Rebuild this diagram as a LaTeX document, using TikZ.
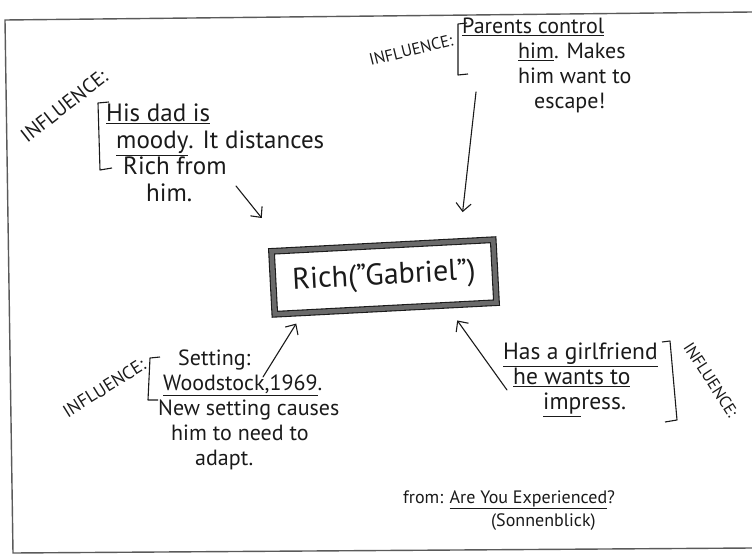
\documentclass[tikz,border=0pt]{standalone}
\usepackage{fontspec}
\setmainfont{PT Sans}
\usetikzlibrary{arrows.meta,calc}
\definecolor{PenInk}{HTML}{1A1A1A}
\definecolor{FrameGray}{HTML}{5A5A5A}
\definecolor{BoxShade}{HTML}{6A6A6A}
\newcommand{\NoteText}{\fontsize{22}{25}\selectfont}
\newcommand{\NoteTextLarge}{\fontsize{25}{26.5}\selectfont}
\newcommand{\NoteTextWide}{\fontsize{23.5}{25}\selectfont}
\newcommand{\NoteTag}{\fontsize{20}{21}\selectfont}
\newcommand{\NoteTagMid}{\fontsize{18}{19}\selectfont}
\newcommand{\NoteTagSmall}{\fontsize{16.5}{17}\selectfont}
\newcommand{\NoteName}{\fontsize{30}{32}\selectfont}
\newcommand{\NoteSource}{\fontsize{18}{23}\selectfont}
\tikzset{
  notetext/.style={
    align=left,
    anchor=north west,
    inner sep=0pt,
    text=PenInk,
    font=\NoteText
  },
  tagtext/.style={
    inner sep=0pt,
    text=PenInk,
    font=\NoteTag
  },
  richbox/.style={
    draw=PenInk,
    double=BoxShade,
    double distance=4.5pt,
    line width=1.1pt,
    fill=white,
    minimum width=222pt,
    minimum height=63pt,
    inner sep=0pt,
    text=PenInk,
    font=\NoteName
  },
  penarrow/.style={
    -{Straight Barb[length=8pt,width=15pt]},
    draw=PenInk,
    line width=1.1pt,
    line cap=round
  },
  bracketline/.style={
    draw=PenInk,
    line width=1.1pt,
    line join=round
  },
  framerule/.style={
    draw=FrameGray,
    line width=1.4pt
  }
}

\begin{document}
\begin{tikzpicture}[x=1pt,y=-1pt]
\path[use as bounding box] (0,0) rectangle (752,559);
\draw[framerule] (752,12) -- (5,20) -- (13,553) -- (752,548);

\node[richbox, rotate=3] (rich) at (384,277) {Rich("Gabriel")};

\node[tagtext, rotate=38] (dadtag) at (64,106) {INFLUENCE:};
\draw[bracketline] (109,102) -- (98,103) -- (100,170) -- (112,168);
\node[notetext, font=\NoteTextLarge] (dadnote) at (106,104)
  {\underline{His dad is}\\
  \hspace*{10pt}\underline{moody}. It distances\\
  \hspace*{17pt}Rich from\\
  \hspace*{40pt}him.};
\coordinate (dadtail) at (236,186);

\node[tagtext, font=\NoteTagSmall, rotate=14] (parenttag) at (411,50) {INFLUENCE:};
\draw[bracketline] (467,23) -- (458,24) -- (458,75) -- (468,74);
\node[notetext] (parentnote) at (462,18)
  {\underline{Parents control}\\
  \hspace*{56pt}\underline{him}. Makes\\
  \hspace*{56pt}him want to\\
  \hspace*{72pt}escape!};
\coordinate (parenttail) at (476,92);

\node[tagtext, font=\NoteTagMid, rotate=32] (settingtag) at (104,388) {INFLUENCE:};
\draw[bracketline] (160,357) -- (150,358) -- (148,400) -- (158,400);
\node[notetext] (settingnote) at (158,350)
  {\hspace*{20pt}Setting:\\
  \hspace*{5pt}\underline{Woodstock,1969}.\\
  New setting causes\\
  \hspace*{13pt}him to need to\\
  \hspace*{37pt}adapt.};
\coordinate (settingtail) at (263,377);

\node[notetext, font=\NoteTextWide] (girlnote) at (503,343)
  {\underline{Has a girlfriend}\\
  \hspace*{10pt}\underline{he wants to}\\
  \hspace*{40pt}\underline{imp}ress.};
\draw[bracketline] (662,342) -- (670,341) -- (677,420) -- (665,422);
\node[tagtext, font=\NoteTagSmall, rotate=-57] (girltag) at (711,380) {INFLUENCE:};
\coordinate (girltail) at (507,390);

\node[notetext, font=\NoteSource] (source) at (403,490)
  {from: \underline{Are You Experienced}?\\
  \hspace*{88pt}(Sonnenblick)};

\draw[penarrow, shorten >=41pt] (dadtail) -- ($(rich.north west)!0.074!(rich.north east)$);
\draw[penarrow, shorten >=29pt] (parenttail) -- ($(rich.north west)!0.846!(rich.north east)$);
\draw[penarrow, shorten >=12pt] (settingtail) -- ($(rich.south west)!0.127!(rich.south east)$);
\draw[penarrow, shorten >=18pt] (girltail) -- ($(rich.south west)!0.774!(rich.south east)$);

\end{tikzpicture}
\end{document}
